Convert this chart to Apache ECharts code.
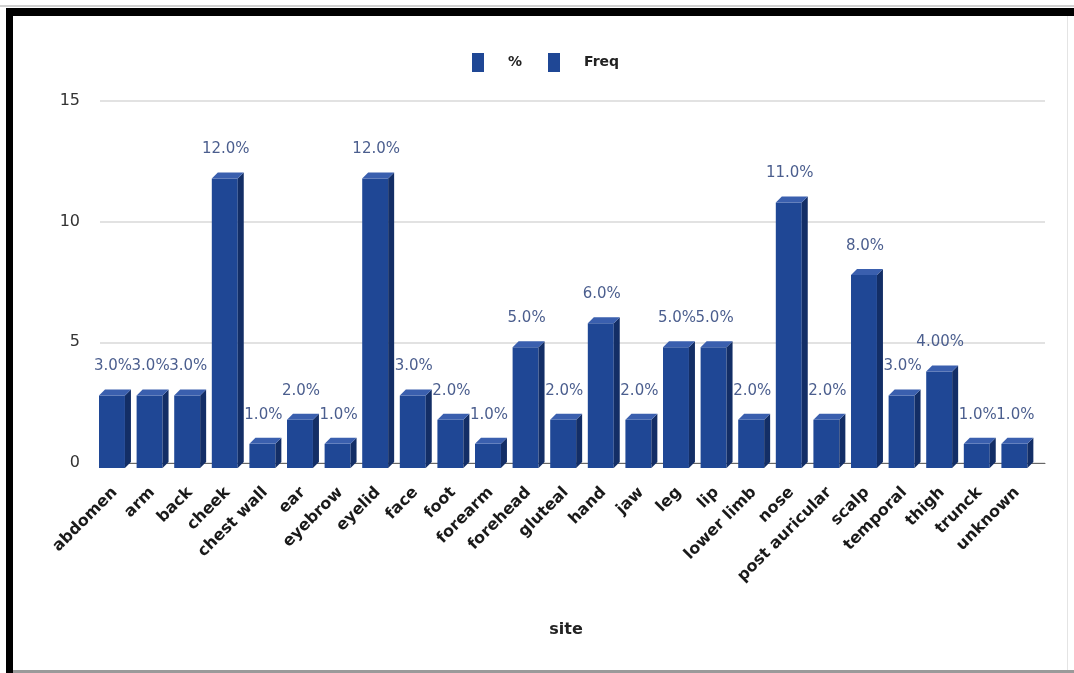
<!DOCTYPE html>
<html>
<head>
<meta charset="utf-8">
<script src="https://cdn.jsdelivr.net/npm/echarts@6/dist/echarts.min.js"></script>
<style>
  html, body { margin: 0; padding: 0; background: #fff; }
  #chart { width: 1074px; height: 673px; }
</style>
</head>
<body>
<div id="chart"></div>
<script>
// Lesion sites: frequency and share of cases
const sites = ['abdomen', 'arm', 'back', 'cheek', 'chest wall', 'ear', 'eyebrow', 'eyelid', 'face', 'foot',
  'forearm', 'forehead', 'gluteal', 'hand', 'jaw', 'leg', 'lip', 'lower limb', 'nose', 'post auricular',
  'scalp', 'temporal', 'thigh', 'trunck', 'unknown'];
const freq = [3, 3, 3, 12, 1, 2, 1, 12, 3, 2, 1, 5, 2, 6, 2, 5, 5, 2, 11, 2, 8, 3, 4, 1, 1];
const pct = [3.0, 3.0, 3.0, 12.0, 1.0, 2.0, 1.0, 12.0, 3.0, 2.0, 1.0, 5.0, 2.0, 6.0, 2.0, 5.0, 5.0, 2.0, 11.0, 2.0, 8.0, 3.0, 4.0, 1.0, 1.0];
const pctDecimals = [1, 1, 1, 1, 1, 1, 1, 1, 1, 1, 1, 1, 1, 1, 1, 1, 1, 1, 1, 1, 1, 1, 2, 1, 1];
const yTicks = [0, 5, 10, 15];

const FRONT = '#1f4795';
const SIDE = '#132e66';
const TOP = '#3a5fae';
const DEPTH = 6;     // horizontal/vertical depth of the 3D extrusion
const SHIFT = 5;     // front face sits slightly below the floor line

const chart = echarts.init(document.getElementById('chart'), null, { renderer: 'canvas' });

function barGeom(api, i, v) {
  const top = api.coord([i, v]);
  const base = api.coord([i, 0]);
  const slot = api.size([1, 0])[0];
  const w = slot * 0.69;
  const x0 = top[0] - slot * 0.42;
  return { x0: x0, w: w, yt: top[1] + SHIFT, yb: base[1] + SHIFT };
}

function renderBar(params, api) {
  const g = barGeom(api, api.value(0), api.value(1));
  const { x0, w, yt, yb } = g;
  return {
    type: 'group',
    children: [
      { type: 'rect', shape: { x: x0, y: yt, width: w, height: yb - yt }, style: { fill: FRONT } },
      { type: 'polygon', shape: { points: [[x0 + w, yt], [x0 + w + DEPTH, yt - DEPTH], [x0 + w + DEPTH, yb - DEPTH], [x0 + w, yb]] }, style: { fill: SIDE } },
      { type: 'polygon', shape: { points: [[x0, yt], [x0 + DEPTH, yt - DEPTH], [x0 + w + DEPTH, yt - DEPTH], [x0 + w, yt]] }, style: { fill: TOP } }
    ]
  };
}

function renderLabel(params, api) {
  const i = api.value(0);
  const v = api.value(1);
  const g = barGeom(api, i, v);
  const y = api.coord([i, v])[1];
  return {
    type: 'text',
    style: {
      text: v.toFixed(pctDecimals[params.dataIndex]) + '%',
      x: g.x0 + g.w / 2 + 1,
      y: y - 24,
      textAlign: 'center',
      textVerticalAlign: 'middle',
      fill: '#4b5e8e',
      font: '15px "DejaVu Sans"'
    }
  };
}

const option = {
  backgroundColor: '#ffffff',
  animation: false,
  textStyle: { fontFamily: 'DejaVu Sans' },
  legend: {
    data: ['%', 'Freq'],
    left: 467,
    top: 48,
    icon: 'rect',
    itemWidth: 12,
    itemHeight: 19,
    itemGap: 26,
    textStyle: { fontSize: 14, color: '#222', fontWeight: 'bold', padding: [0, 0, 0, 19] }
  },
  grid: [
    { left: 96, right: 38, top: 101, bottom: 210 },
    { left: 100, right: 29, top: 101, bottom: 210 }
  ],
  xAxis: [
    {
      type: 'category', gridIndex: 0, data: sites,
      axisLine: { show: false }, axisTick: { show: false },
      axisLabel: { rotate: 45, fontSize: 16, fontWeight: 'bold', color: '#1a1a1a', margin: 27, interval: 0 },
      name: 'site', nameLocation: 'middle', nameGap: 159,
      nameTextStyle: { fontSize: 16, fontWeight: 'bold', color: '#222' }
    },
    {
      type: 'category', gridIndex: 1, data: sites,
      axisLine: { show: true, lineStyle: { color: '#666', width: 1 } },
      axisTick: { show: false }, axisLabel: { show: false }
    }
  ],
  yAxis: [
    { type: 'value', gridIndex: 0, min: 0, max: 15, interval: 5, show: false },
    {
      type: 'value', gridIndex: 1, min: 0, max: 15, interval: 5,
      axisLine: { show: false }, axisTick: { show: false },
      axisLabel: { fontSize: 16, color: '#333', margin: 20, formatter: v => yTicks.includes(v) ? String(v) : '' },
      splitLine: { lineStyle: { color: '#e2e2e2', width: 2 } }
    }
  ],
  series: [
    {
      name: '%', type: 'custom', xAxisIndex: 0, yAxisIndex: 0,
      itemStyle: { color: FRONT },
      renderItem: renderLabel,
      encode: { x: 0, y: 1 },
      data: pct.map((v, i) => [i, v]),
      z: 5
    },
    {
      name: 'Freq', type: 'custom', xAxisIndex: 0, yAxisIndex: 0,
      itemStyle: { color: FRONT },
      renderItem: renderBar,
      encode: { x: 0, y: 1 },
      data: freq.map((v, i) => [i, v]),
      z: 3
    }
  ],
  graphic: [
    // frame around the figure
    { type: 'rect', shape: { x: 6, y: 8, width: 1068, height: 8 }, style: { fill: '#000' }, z: 100 },
    { type: 'rect', shape: { x: 6, y: 8, width: 7, height: 665 }, style: { fill: '#000' }, z: 100 },
    { type: 'rect', shape: { x: 0, y: 5, width: 1074, height: 2 }, style: { fill: '#d0d0d0' }, z: 99 },
    { type: 'rect', shape: { x: 1067, y: 16, width: 1, height: 657 }, style: { fill: '#e4e4e4' }, z: 99 },
    { type: 'rect', shape: { x: 13, y: 670, width: 1061, height: 3 }, style: { fill: '#9a9a9a' }, z: 99 }
  ]
};

chart.setOption(option);
</script>
</body>
</html>
